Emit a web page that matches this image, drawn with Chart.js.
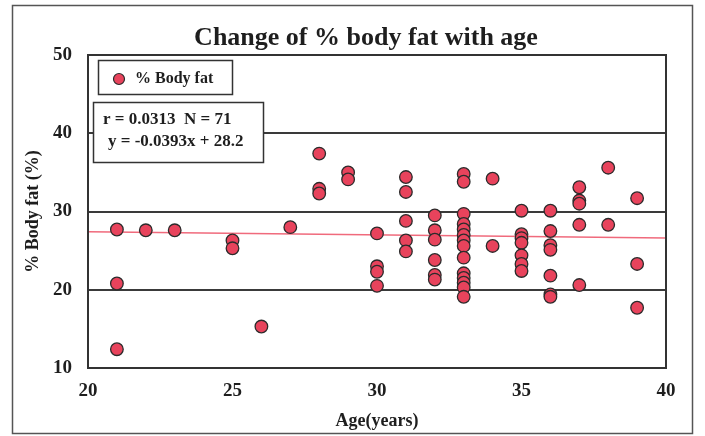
<!DOCTYPE html>
<html>
<head>
<meta charset="utf-8">
<script src="https://cdn.jsdelivr.net/npm/chart.js@4.4.1/dist/chart.umd.min.js"></script>
<style>
  body { margin: 0; background: #fff; }
  canvas { display: block; }
</style>
</head>
<body>
<canvas id="fatChart" width="705" height="436"></canvas>
<script>
// Scatter data: age (years) and % body fat
const ages = [
  21, 21, 21, 22, 23, 25, 25, 26, 27, 28, 28, 28, 29, 29,
  30, 30, 30, 30, 31, 31, 31, 31, 31,
  32, 32, 32, 32, 32, 32,
  33, 33, 33, 33, 33, 33, 33, 33, 33, 33, 33, 33, 33, 33,
  34, 34,
  35, 35, 35, 35, 35, 35, 35,
  36, 36, 36, 36, 36, 36, 36,
  37, 37, 37, 37, 37,
  38, 38,
  39, 39, 39
];
const bodyFat = [
  27.7, 20.8, 12.4, 27.6, 27.6, 26.3, 25.3, 15.3, 28.0, 37.4, 32.9, 32.3, 35.0, 34.1,
  27.2, 23.0, 22.3, 20.5, 34.4, 32.5, 28.8, 26.3, 24.9,
  29.5, 27.6, 26.4, 23.8, 21.9, 21.3,
  34.8, 33.8, 29.7, 28.4, 27.7, 27.0, 26.3, 25.6, 24.1, 22.1, 21.5, 20.9, 20.3, 19.1,
  34.2, 25.6,
  30.1, 27.1, 26.6, 26.0, 24.4, 23.3, 22.4,
  30.1, 27.5, 25.7, 25.1, 21.8, 19.4, 19.1,
  33.1, 31.4, 31.0, 28.3, 20.6,
  35.6, 28.3,
  31.7, 23.3, 17.7
];

// Regression line end points
const trendAges = [20, 40];
const trendFat = [27.4, 26.6];

const chartTitle = 'Change of % body fat with age';
const statsLines = ['r = 0.0313  N = 71', 'y = -0.0393x + 28.2'];

const serif = "'Liberation Serif', 'DejaVu Serif', serif";
const ink = '#1e1e1e';
const dotFill = '#e8435c';
const dotEdge = '#2b2b2b';

// Outer frame, title, plot box and the two boxes in the upper left
const framePlugin = {
  id: 'framePlugin',
  beforeDraw(chart) {
    const ctx = chart.ctx;
    ctx.save();
    ctx.fillStyle = '#fff';
    ctx.fillRect(0, 0, chart.width, chart.height);
    ctx.strokeStyle = '#555';
    ctx.lineWidth = 1.5;
    ctx.strokeRect(12.5, 5.5, 680, 428);
    ctx.fillStyle = ink;
    ctx.font = 'bold 26px ' + serif;
    ctx.textAlign = 'center';
    ctx.textBaseline = 'middle';
    ctx.fillText(chartTitle, 366, 38);
    ctx.restore();
  },
  afterDraw(chart) {
    const ctx = chart.ctx;
    const a = chart.chartArea;
    ctx.save();
    ctx.strokeStyle = '#333';
    ctx.lineWidth = 2;
    ctx.strokeRect(a.left, a.top, a.right - a.left, a.bottom - a.top);

    // legend box
    ctx.lineWidth = 1.5;
    ctx.fillStyle = '#fff';
    ctx.fillRect(98.5, 60.5, 134, 34);
    ctx.strokeRect(98.5, 60.5, 134, 34);
    ctx.beginPath();
    ctx.arc(119, 79, 5.5, 0, Math.PI * 2);
    ctx.fillStyle = dotFill;
    ctx.fill();
    ctx.strokeStyle = dotEdge;
    ctx.lineWidth = 1.2;
    ctx.stroke();
    ctx.fillStyle = ink;
    ctx.font = 'bold 16px ' + serif;
    ctx.textBaseline = 'middle';
    ctx.fillText(chart.data.datasets[0].label, 135, 79);

    // stats box
    ctx.strokeStyle = '#333';
    ctx.lineWidth = 1.5;
    ctx.fillStyle = '#fff';
    ctx.fillRect(93.5, 102.5, 170, 60);
    ctx.strokeRect(93.5, 102.5, 170, 60);
    ctx.fillStyle = ink;
    ctx.font = 'bold 17px ' + serif;
    ctx.fillText(statsLines[0], 103, 120);
    ctx.fillText(statsLines[1], 108, 142);
    ctx.restore();
  }
};

const ctx = document.getElementById('fatChart').getContext('2d');
const fatChart = new Chart(ctx, {
  type: 'scatter',
  data: {
    datasets: [{
      label: '% Body fat',
      data: ages.map((a, i) => ({ x: a, y: bodyFat[i] })),
      backgroundColor: dotFill,
      borderColor: dotEdge,
      borderWidth: 1.3,
      pointRadius: 6.3,
      order: 1
    }, {
      type: 'line',
      label: 'fit',
      data: trendAges.map((a, i) => ({ x: a, y: trendFat[i] })),
      borderColor: '#f06a7c',
      borderWidth: 1.5,
      pointRadius: 0,
      fill: false,
      order: 2
    }]
  },
  options: {
    responsive: false,
    animation: false,
    layout: { padding: { top: 55, right: 39, bottom: 0, left: 0 } },
    plugins: {
      legend: { display: false },
      tooltip: { enabled: false },
      title: { display: false }
    },
    scales: {
      x: {
        type: 'linear',
        min: 20,
        max: 40,
        afterFit: s => { s.height = 68; },
        grid: { display: false, drawTicks: false },
        border: { display: false },
        ticks: {
          stepSize: 5,
          padding: 12,
          color: ink,
          font: { family: serif, size: 19, weight: 'bold' }
        },
        title: {
          display: true,
          text: 'Age(years)',
          color: ink,
          font: { family: serif, size: 18, weight: 'bold' },
          padding: { top: 0, bottom: 4 }
        }
      },
      y: {
        min: 10,
        max: 50,
        afterFit: s => { s.width = 88; },
        grid: { color: '#3a3a3a', lineWidth: 2, drawTicks: false },
        border: { display: false },
        ticks: {
          stepSize: 10,
          padding: 16,
          color: ink,
          font: { family: serif, size: 19, weight: 'bold' }
        },
        title: {
          display: true,
          text: '% Body fat (%)',
          color: ink,
          font: { family: serif, size: 18, weight: 'bold' },
          padding: { top: 23, bottom: 0 }
        }
      }
    }
  },
  plugins: [framePlugin]
});
</script>
</body>
</html>
